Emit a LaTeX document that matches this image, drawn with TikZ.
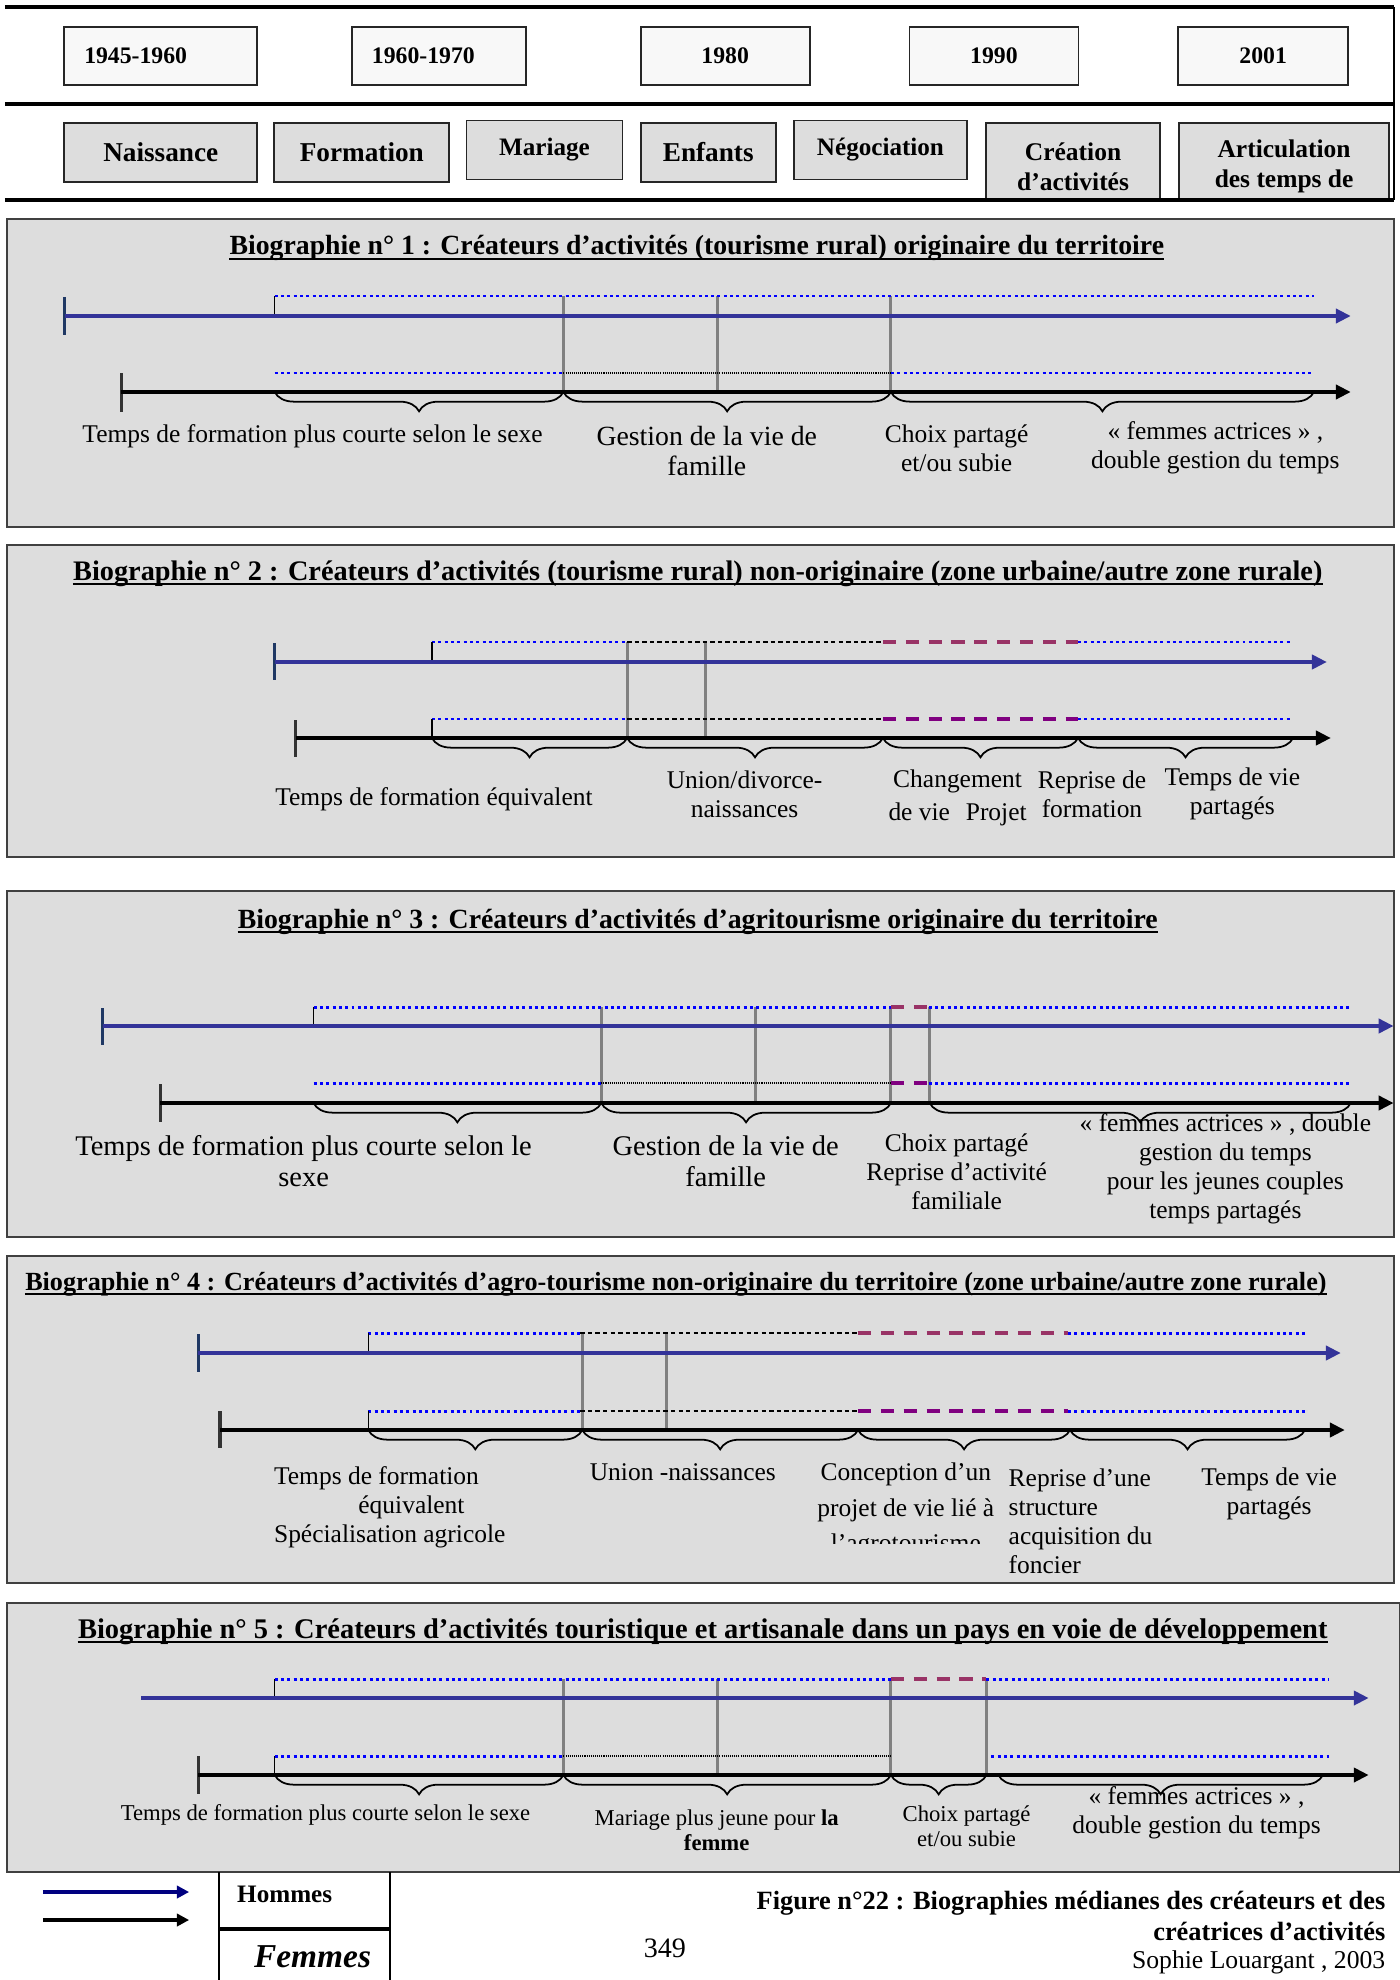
\documentclass[tikz,border=0pt]{standalone}
\usepackage{fontspec}
\setmainfont{Liberation Serif}
\usetikzlibrary{positioning, arrows.meta, decorations.pathreplacing}
\definecolor{hcol}{RGB}{51,51,153}
\definecolor{legcol}{RGB}{0,0,128}
\definecolor{tickcol}{RGB}{31,56,100}
\definecolor{dotcol}{RGB}{0,0,255}
\definecolor{pinkcol}{RGB}{153,51,102}
\definecolor{purplecol}{RGB}{128,0,128}
\definecolor{panelbg}{RGB}{221,221,221}
\definecolor{datebg}{RGB}{248,248,248}
\newcommand{\taille}[2]{\fontsize{#1}{#2}\selectfont}

\begin{document}
\begin{tikzpicture}[
    x=0.01991cm, y=-0.02cm,
    trait/.style={line width=2.3pt},
    datebox/.style={draw=black!85, line width=1pt, fill=datebg, minimum height=1.16cm, font=\taille{13.5}{15}\bfseries, inner sep=0pt},
    etape/.style={draw=black!85, line width=1pt, fill=panelbg, minimum height=1.18cm, align=center, font=\taille{15.5}{17}\bfseries, inner sep=0pt},
    cadre/.style={draw=black!75, line width=1.2pt, fill=panelbg},
    titre/.style={font=\taille{16}{18}\bfseries, inner sep=0pt, anchor=base},
    lab/.style={align=center, inner sep=0pt, font=\taille{14.5}{16.5}},
    homme/.style={color=hcol, line width=2.3pt, -{Triangle[length=8.5pt,width=8pt]}},
    femme/.style={color=black, line width=2.3pt, -{Triangle[length=8.5pt,width=8pt]}},
    tickh/.style={draw=tickcol, line width=1.8pt},
    tickf/.style={draw=black!80, line width=1.8pt},
    depart/.style={draw=black, line width=0.8pt},
    pointsbleus/.style={draw=dotcol, line width=1.7pt, dash pattern=on 1.7pt off 1.9pt},
    pointsfins/.style={draw=black, line width=0.6pt, dash pattern=on 0.6pt off 0.6pt},
    tiretsfins/.style={draw=black, line width=0.7pt, dash pattern=on 2.5pt off 1.8pt},
    tiretsrose/.style={draw=pinkcol, line width=1.8pt, dash pattern=on 7.5pt off 5.5pt},
    tiretsviolet/.style={draw=purplecol, line width=1.8pt, dash pattern=on 7.5pt off 5.5pt},
    jalon/.style={draw=gray, line width=1.7pt},
    accol/.style={decorate, decoration={brace, mirror, amplitude=11pt}, line width=1pt},
    souligne/.style={line width=1.1pt}
]
\useasboundingbox[fill=white] (0,0) rectangle (1406.3,1980);

% en-tete : periodes et etapes
\begin{scope}
\clip (0,0) rectangle (1406.3,200);
\node[datebox, minimum width=3.86cm, text width=3.06cm, inner xsep=0.4cm, align=left] (d1) at (161.5,56) {1945-1960};
\node[datebox, minimum width=3.48cm, text width=2.68cm, inner xsep=0.4cm, align=left] (d2) at (441,56) {1960-1970};
\node[datebox, minimum width=3.38cm] (d3) at (728.5,56) {1980};
\node[datebox, minimum width=3.38cm] (d4) at (998.5,56) {1990};
\node[datebox, minimum width=3.4cm] (d5) at (1269,56) {2001};
\node[etape, minimum width=3.86cm] (naiss) at (161.5,152.5) {Naissance};
\node[etape, minimum width=3.5cm] (form) at (363.5,152.5) {Formation};
\node[etape, minimum width=3.12cm, font=\taille{14.3}{16}\bfseries] (mar) at (547,150) {Mariage};
\node[etape, minimum width=2.7cm] (enf) at (711.5,152.5) {Enfants};
\node[etape, minimum width=3.46cm, font=\taille{14.3}{16}\bfseries] (nego) at (884.5,150) {Négociation};
\node[etape, minimum width=3.48cm, minimum height=1.74cm, font=\taille{14.5}{17}\bfseries] (crea) at (1078,166.5) {Création\\d’activités};
\node[etape, minimum width=4.2cm, minimum height=1.74cm, font=\taille{14.5}{17}\bfseries] (artic) at (1290,166.5) {Articulation\\des temps de};
\end{scope}
\draw[trait] (5,7) -- (1400,7);
\draw[trait] (5,104) -- (1400,104);
\draw[trait] (5,200) -- (1400,200);
\draw[line width=1.1pt] (1400,7) -- (1400,200);

% biographie 1
\draw[cadre] (7,219) rectangle (1400,527);
\node[titre, font=\taille{15.8}{18}\bfseries] (t1) at (700,255) {Biographie n° 1 : Créateurs d’activités (tourisme rural) originaire du territoire};
\draw[souligne] ([yshift=-2.2pt]t1.base west) -- ([yshift=-2.2pt]t1.base east);
\foreach \x in {566,721,895} \draw[jalon] (\x,296) -- (\x,392);
\draw[pointsbleus] (276,296) -- (1320,296);
\draw[depart] (276,296) -- (276,316);
\draw[tickh] (65,297) -- (65,335);
\draw[homme] (65,316) -- (1357,316);
\draw[pointsbleus] (276,373) -- (566,373);
\draw[pointsfins] (566,373) -- (895,373);
\draw[pointsbleus] (895,373) -- (1320,373);
\draw[tickf] (122,373) -- (122,412);
\draw[femme] (122,392) -- (1357,392);
\draw[accol] (276,392) -- (566,392);
\draw[accol] (566,392) -- (895,392);
\draw[accol] (895,392) -- (1320,392);
\node[lab] (b1a) at (314,436) {Temps de formation plus courte selon le sexe};
\node[lab, font=\taille{15.8}{17}] (b1b) at (710,451) {Gestion de la vie de\\famille};
\node[lab] (b1c) at (961,448) {Choix partagé\\et/ou subie};
\node[lab] (b1d) at (1221,448) {« femmes actrices » ,\\double gestion du temps};

% biographie 2
\draw[cadre] (7,545) rectangle (1400,857);
\node[titre, font=\taille{16.1}{18}\bfseries] (t2) at (701,580) {Biographie n° 2 : Créateurs d’activités (tourisme rural) non-originaire (zone urbaine/autre zone rurale)};
\draw[souligne] ([yshift=-2.2pt]t2.base west) -- ([yshift=-2.2pt]t2.base east);
\foreach \x in {630,709} \draw[jalon] (\x,642) -- (\x,738);
\draw[pointsbleus] (434,642) -- (630,642);
\draw[tiretsfins] (630,642) -- (887,642);
\draw[tiretsrose] (887,642) -- (1083,642);
\draw[pointsbleus] (1083,642) -- (1299,642);
\draw[depart] (434,642) -- (434,662);
\draw[tickh] (276,643) -- (276,680);
\draw[homme] (276,662) -- (1333,662);
\draw[pointsbleus] (434,719) -- (630,719);
\draw[tiretsfins] (630,719) -- (887,719);
\draw[tiretsviolet] (887,719) -- (1083,719);
\draw[pointsbleus] (1083,719) -- (1299,719);
\draw[depart] (434,719) -- (434,738);
\draw[tickf] (297,720) -- (297,757);
\draw[femme] (297,738) -- (1337,738);
\draw[accol] (434,738) -- (630,738);
\draw[accol] (630,738) -- (887,738);
\draw[accol] (887,738) -- (1083,738);
\draw[accol] (1083,738) -- (1299,738);
\node[lab] (b2a) at (436,799) {Temps de formation équivalent};
\node[lab] (b2b) at (748,794) {Union/divorce-\\naissances};
\node[lab] (b2c) at (962,798) {Changement\\[2pt]de vie\hspace{9pt}Projet};
\node[lab] (b2d) at (1097,794) {Reprise de\\formation};
\node[lab] (b2e) at (1238,794) {Temps de vie\\partagés};

% biographie 3
\draw[cadre] (7,891) rectangle (1400,1237);
\node[titre, font=\taille{15.8}{18}\bfseries] (t3) at (701,928) {Biographie n° 3 : Créateurs d’activités d’agritourisme originaire du territoire};
\draw[souligne] ([yshift=-2.2pt]t3.base west) -- ([yshift=-2.2pt]t3.base east);
\foreach \x in {604,759,895,934} \draw[jalon] (\x,1007) -- (\x,1103);
\draw[pointsbleus] (315,1007) -- (895,1007);
\draw[tiretsrose] (895,1007) -- (933,1007);
\draw[pointsbleus] (933,1007) -- (1357,1007);
\draw[depart] (315,1007) -- (315,1026);
\draw[tickh] (103,1008) -- (103,1045);
\draw[homme] (103,1026) -- (1400,1026);
\draw[pointsbleus] (315,1083) -- (604,1083);
\draw[pointsfins] (604,1083) -- (895,1083);
\draw[tiretsviolet] (895,1083) -- (933,1083);
\draw[pointsbleus] (933,1083) -- (1357,1083);
\draw[tickf] (161,1084) -- (161,1122);
\draw[femme] (161,1103) -- (1400,1103);
\draw[accol] (315,1103) -- (604,1103);
\draw[accol] (604,1103) -- (895,1103);
\draw[accol] (934,1103) -- (1357,1103);
\node[lab, font=\taille{16.2}{17.5}] (b3a) at (305,1161) {Temps de formation plus courte selon le\\sexe};
\node[lab, font=\taille{16.2}{17.5}] (b3b) at (729,1161) {Gestion de la vie de\\famille};
\node[lab] (b3c) at (961,1172) {Choix partagé\\Reprise d’activité\\familiale};
\node[lab] (b3d) at (1231,1169) {« femmes actrices » , double\\gestion du temps\\pour les jeunes couples\\temps partagés};

% biographie 4
\draw[cadre] (7,1256) rectangle (1400,1583);
\node[titre, font=\taille{14.9}{17}\bfseries] (t4) at (679,1290) {Biographie n° 4 : Créateurs d’activités d’agro-tourisme non-originaire du territoire (zone urbaine/autre zone rurale)};
\draw[souligne] ([yshift=-2.2pt]t4.base west) -- ([yshift=-2.2pt]t4.base east);
\foreach \x in {585,670} \draw[jalon] (\x,1333) -- (\x,1430);
\draw[pointsbleus] (370,1333) -- (583,1333);
\draw[tiretsfins] (583,1333) -- (862,1333);
\draw[tiretsrose] (862,1333) -- (1073,1333);
\draw[pointsbleus] (1073,1333) -- (1311,1333);
\draw[depart] (370,1333) -- (370,1353);
\draw[tickh] (199,1334) -- (199,1372);
\draw[homme] (199,1353) -- (1347,1353);
\draw[pointsbleus] (370,1411) -- (583,1411);
\draw[tiretsfins] (583,1411) -- (862,1411);
\draw[tiretsviolet] (862,1411) -- (1073,1411);
\draw[pointsbleus] (1073,1411) -- (1311,1411);
\draw[depart] (370,1411) -- (370,1430);
\draw[tickf] (221,1411) -- (221,1448);
\draw[femme] (221,1430) -- (1351,1430);
\draw[accol] (370,1430) -- (585,1430);
\draw[accol] (585,1430) -- (862,1430);
\draw[accol] (862,1430) -- (1075,1430);
\draw[accol] (1075,1430) -- (1311,1430);
\node[lab, align=left, anchor=west] (b4a) at (275,1507) {Temps de formation\\\hspace*{48pt}équivalent\\Spécialisation agricole};
\node[lab] (b4b) at (686,1472) {Union -naissances};
\begin{scope}
\clip (790,1450) rectangle (1005,1543);
\node[lab, font=\taille{14.5}{20}] (b4c) at (910,1510) {Conception d’un\\projet de vie lié à\\l’agrotourisme};
\end{scope}
\node[lab, align=left, anchor=west] (b4d) at (1013,1521) {Reprise d’une\\structure\\acquisition du\\foncier};
\node[lab] (b4e) at (1275,1494) {Temps de vie\\partagés};

% biographie 5
\draw[cadre] (7,1603) rectangle (1406,1872);
\node[titre, font=\taille{16.2}{18}\bfseries] (t5) at (706,1638) {Biographie n° 5 : Créateurs d’activités touristique et artisanale dans un pays en voie de développement};
\draw[souligne] ([yshift=-2.2pt]t5.base west) -- ([yshift=-2.2pt]t5.base east);
\foreach \x in {566,721,895,991} \draw[jalon] (\x,1679) -- (\x,1775);
\draw[pointsbleus] (276,1679) -- (895,1679);
\draw[tiretsrose] (895,1679) -- (991,1679);
\draw[pointsbleus] (991,1679) -- (1335,1679);
\draw[depart] (276,1679) -- (276,1698);
\draw[homme] (142,1698) -- (1375,1698);
\draw[pointsbleus] (276,1756) -- (566,1756);
\draw[pointsfins] (566,1756) -- (895,1756);
\draw[pointsbleus] (996,1756) -- (1335,1756);
\draw[depart] (276,1756) -- (276,1775);
\draw[tickf] (199,1756) -- (199,1794);
\draw[femme] (199,1775) -- (1375,1775);
\draw[accol] (276,1775) -- (566,1775);
\draw[accol] (566,1775) -- (895,1775);
\draw[accol] (895,1775) -- (991,1775);
\draw[accol] (1003,1775) -- (1329,1775);
\node[lab, font=\taille{12.9}{14.3}] (b5a) at (327,1815) {Temps de formation plus courte selon le sexe};
\node[lab, font=\taille{12.9}{14.3}] (b5b) at (720,1830) {Mariage plus jeune pour \textbf{la}\\\textbf{femme}};
\node[lab, font=\taille{12.9}{14.3}] (b5c) at (971,1826) {Choix partagé\\et/ou subie};
\node[lab] (b5d) at (1202,1813) {« femmes actrices » ,\\double gestion du temps};

% legende et pied de page
\draw[color=legcol, line width=1.8pt, -{Triangle[length=7pt,width=7pt]}] (43,1892) -- (190,1892);
\draw[color=black, line width=1.8pt, -{Triangle[length=7pt,width=7pt]}] (43,1920) -- (190,1920);
\draw[line width=1.1pt] (220,1872) -- (220,1980);
\draw[line width=1.1pt] (392,1872) -- (392,1980);
\draw[line width=1.8pt] (220,1929) -- (392,1929);
\node[font=\taille{14.3}{16}\bfseries] (hom) at (286,1894) {Hommes};
\node[font=\taille{19}{21}\bfseries\itshape] (fem) at (314,1957) {Femmes};
\node[font=\taille{16}{18}] (page) at (668,1948) {349};
\node[anchor=east, align=right, inner sep=0pt, font=\taille{15}{17.5}\bfseries] (fig) at (1392,1916) {Figure n°22 : Biographies médianes des créateurs et des\\créatrices d’activités};
\node[anchor=east, inner sep=0pt, font=\taille{14.6}{17}] (auteur) at (1392,1962) {Sophie Louargant , 2003};
\end{tikzpicture}
\end{document}
